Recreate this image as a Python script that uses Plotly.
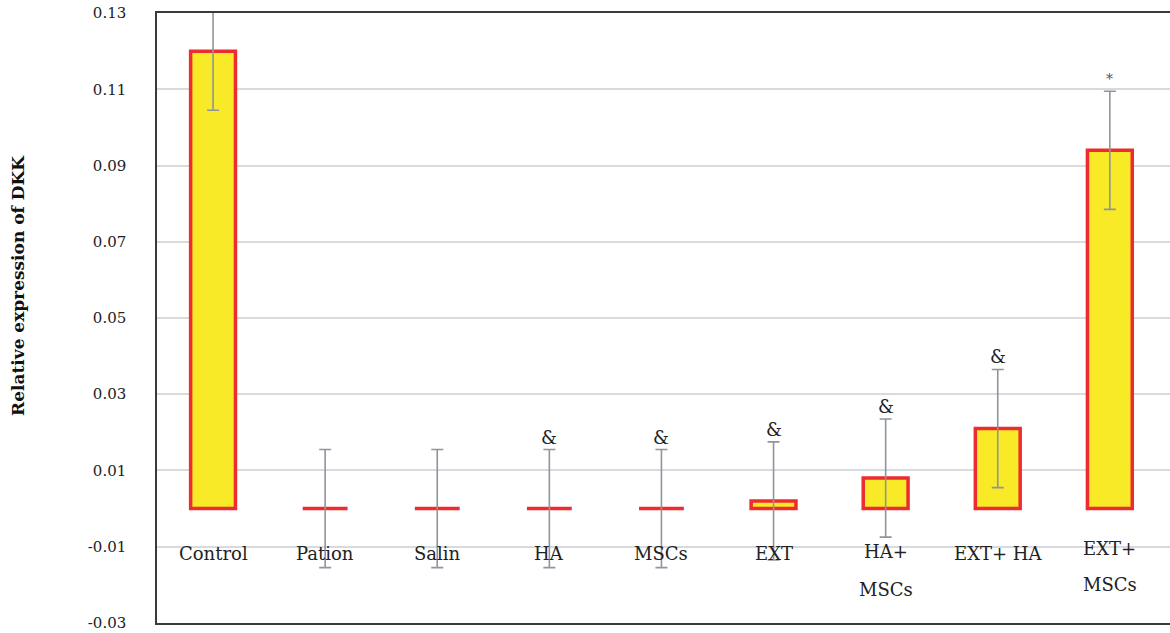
import plotly.graph_objects as go

categories = ["Control", "Pation", "Salin", "HA", "MSCs", "EXT", "HA+ MSCs", "EXT+ HA", "EXT+ MSCs"]
label_lines = [["Control"], ["Pation"], ["Salin"], ["HA"], ["MSCs"], ["EXT"], ["HA+", "MSCs"], ["EXT+ HA"], ["EXT+", "MSCs"]]
values = [0.120, 0.0, 0.0, 0.0, 0.0, 0.002, 0.008, 0.021, 0.094]
errors = [0.0155, 0.0155, 0.0155, 0.0155, 0.0155, 0.0155, 0.0155, 0.0155, 0.0155]
marks = ["", "", "", "&", "&", "&", "&", "&", "*"]
ytick_vals = [-0.03, -0.01, 0.01, 0.03, 0.05, 0.07, 0.09, 0.11, 0.13]
ytick_text = ["-0.03", "-0.01", "0.01", "0.03", "0.05", "0.07", "0.09", "0.11", "0.13"]
y_title = "Relative expression of DKK"

SERIF = "DejaVu Serif"
x_idx = list(range(len(categories)))

L, T, B = 157, 13, 10
W, H = 1170, 633
plot_w = W - L

fig = go.Figure()
fig.add_trace(go.Bar(
    x=x_idx, y=values, width=0.4,
    marker=dict(color="#F8EA26", line=dict(color="#EE2B2F", width=3.5)),
    error_y=dict(type="data", array=errors, visible=True, color="#8E959D", thickness=1.6, width=6),
    showlegend=False, hoverinfo="skip",
))

annotations = []
for i, lines in enumerate(label_lines):
    if len(lines) == 1:
        annotations.append(dict(x=i, y=-0.0118, xref="x", yref="y", text=lines[0], showarrow=False,
                                font=dict(family=SERIF, size=18, color="#222")))
    else:
        ys = [-0.0112, -0.0213] if i == 6 else [-0.0105, -0.0200]
        for ln, yy in zip(lines, ys):
            annotations.append(dict(x=i, y=yy, xref="x", yref="y", text=ln, showarrow=False,
                                    font=dict(family=SERIF, size=18, color="#222")))
for i, m in enumerate(marks):
    if m:
        annotations.append(dict(x=i, y=values[i] + errors[i], xref="x", yref="y", text=m, showarrow=False,
                                yanchor="bottom", yshift=0 if m == "&" else 2,
                                font=dict(family=SERIF, size=18 if m == "&" else 14,
                                          color="#222" if m == "&" else "#555")))
annotations.append(dict(x=-139 / plot_w, y=0.5525, xref="paper", yref="paper", text="<b>" + y_title + "</b>",
                        textangle=-90, showarrow=False, xanchor="center", yanchor="middle",
                        font=dict(family=SERIF, size=17, color="#111")))

fig.update_layout(
    width=W, height=H,
    margin=dict(l=L, r=0, t=T, b=B),
    paper_bgcolor="white", plot_bgcolor="white",
    annotations=annotations,
    xaxis=dict(range=[-0.5, -0.5 + plot_w / 112.1], showticklabels=False, showgrid=False, zeroline=False,
               showline=True, mirror=True, linecolor="#3a3a3a", linewidth=2, ticks=""),
    yaxis=dict(range=[-0.03002, 0.13002], tickvals=ytick_vals, ticktext=ytick_text,
               showgrid=True, gridcolor="#D9DAE0", gridwidth=1.5, zeroline=False,
               showline=True, linecolor="#3a3a3a", linewidth=1.5, ticks="",
               ticklabelstandoff=26,
               tickfont=dict(family=SERIF, size=15, color="#222")),
)

fig.write_html("out.html", config={"displayModeBar": False},
               post_script="document.body.style.margin='0';document.body.style.overflow='hidden';")
